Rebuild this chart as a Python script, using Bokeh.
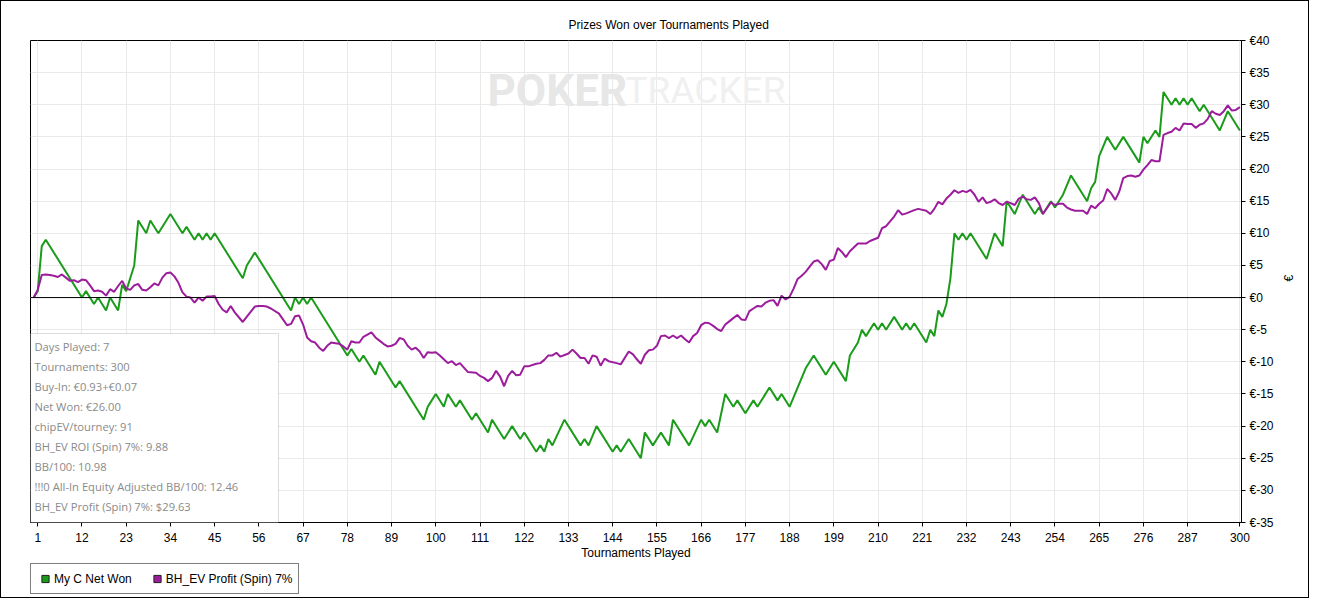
import math
from bokeh.plotting import figure
from bokeh.layouts import column
from bokeh.models import (Range1d, FixedTicker, Span, Label, BoxAnnotation,
                          Legend, LegendItem)
from bokeh.embed import file_html
from bokeh.resources import INLINE

# ---------------- data ----------------
title_text = "Prizes Won over Tournaments Played"
x_label = "Tournaments Played"
y_label = "€"
series_names = ["My C Net Won", "BH_EV Profit (Spin) 7%"]

x_ticks = [1, 12, 23, 34, 45, 56, 67, 78, 89, 100, 111, 122, 133, 144, 155, 166,
           177, 188, 199, 210, 221, 232, 243, 254, 265, 276, 287, 300]
y_ticks = [-35, -30, -25, -20, -15, -10, -5, 0, 5, 10, 15, 20, 25, 30, 35, 40]

# green series: turning points (tournament, net won in €)
green_t = [0, 1, 2, 3, 12, 13, 15, 16, 18, 19, 21, 22, 23, 24, 25, 26, 28, 29, 31, 34,
           37, 38, 40, 41, 42, 43, 44, 45, 52, 53, 55, 64, 65, 66, 67, 68, 69, 78, 79,
           81, 82, 85, 86, 90, 91, 97, 98, 99, 100, 102, 103, 105, 106, 109, 110, 113,
           114, 117, 119, 121, 122, 125, 126, 127, 128, 129, 132, 136, 137, 138, 140,
           144, 145, 146, 148, 151, 152, 154, 156, 158, 159, 163, 166, 167, 168, 170,
           172, 174, 175, 177, 179, 180, 183, 185, 186, 188, 190, 192, 194, 197, 199,
           202, 203, 205, 206, 207, 209, 210, 211, 212, 214, 216, 217, 218, 219, 222,
           223, 224, 225, 226, 227, 228, 229, 230, 231, 232, 233, 237, 239, 241, 242,
           244, 246, 249, 250, 251, 253, 254, 256, 258, 262, 263, 264, 265, 267, 269,
           271, 275, 276, 277, 279, 280, 281, 283, 284, 285, 286, 287, 288, 290, 291,
           295, 297, 300]
green_v = [0, 1, 8, 9, 0, 1, -1, 0, -2, 0, -2, 2, 1, 3, 5, 12, 10, 12, 10, 13,
           10, 11, 9, 10, 9, 10, 9, 10, 3, 5, 7, -2, 0, -1, 0, -1, 0, -9, -8,
           -10, -9, -12, -10, -14, -13, -19, -17, -16, -15, -17, -15, -17, -16, -19, -18, -21,
           -19, -22, -20, -22, -21, -24, -23, -24, -22, -23, -19, -23, -22, -23, -20,
           -24, -23, -24, -22, -25, -21, -23, -21, -23, -19, -23, -19, -20, -19, -21,
           -15, -17, -16, -18, -16, -17, -14, -16, -15, -17, -14, -11, -9, -12, -10,
           -13, -9, -7, -5, -6, -4, -5, -4, -5, -3, -5, -4, -5, -4, -7,
           -5, -6, -2, -3, -1, 3, 10, 9, 10, 9, 10, 6, 10, 8, 15,
           13, 16, 13, 14, 13, 15, 14, 16, 19, 15, 17, 18, 22, 25, 23,
           25, 21, 25, 24, 26, 25, 32, 30, 31, 30, 31, 30, 31, 29, 30,
           26, 29, 26]

# purple series: (tournament, BH_EV profit in €)
purple_t = [0, 1, 2, 3, 4, 5, 6, 7, 8, 9, 10, 11, 12, 13, 14, 15, 16, 17, 18, 19,
            20, 21, 22, 23, 24, 25, 26, 27, 28, 29, 30, 31, 32, 33, 34, 35, 36, 37, 38, 39,
            40, 41, 42, 43, 44, 45, 46, 47, 48, 49, 50, 52, 54, 55, 56, 57, 58, 59, 61, 62,
            63, 64, 65, 66, 67, 68, 69, 70, 71, 72, 73, 74, 75, 76, 77, 78, 79, 80, 81, 82,
            84, 85, 86, 87, 88, 89, 90, 91, 92, 93, 94, 95, 96, 97, 98, 99, 100, 101, 102, 103,
            104, 105, 106, 107, 108, 110, 111, 112, 113, 114, 115, 116, 117, 118, 119, 120,
            121, 122, 123, 125, 126, 127, 128, 129, 130, 131, 133, 134, 135, 136, 137, 138,
            139, 140, 141, 142, 143, 145, 146, 148, 149, 150, 151, 152, 153, 154, 155, 156,
            157, 158, 159, 160, 161, 162, 163, 164, 165, 166, 167, 168, 169, 170, 171, 172,
            173, 174, 175, 176, 177, 178, 179, 180, 181, 182, 183, 184, 185, 186, 187, 188,
            189, 190, 191, 192, 193, 194, 195, 196, 197, 198, 199, 200, 201, 202, 203, 205,
            206, 207, 208, 210, 211, 212, 214, 215, 216, 217, 219, 220, 222, 223, 224, 225,
            226, 227, 228, 229, 230, 231, 232, 233, 234, 235, 236, 237, 238, 239, 240, 241,
            242, 243, 244, 245, 246, 247, 248, 249, 250, 251, 252, 253, 254, 255, 256, 257,
            258, 259, 261, 262, 263, 264, 265, 266, 267, 268, 269, 270, 271, 272, 273, 274,
            275, 276, 277, 278, 279, 280, 281, 282, 283, 284, 285, 286, 287, 288, 289, 290,
            291, 292, 293, 294, 295, 296, 297, 298, 299, 300]
purple_v = [0, 1.2, 3.5, 3.6, 3.5, 3.4, 3.2, 3.6, 3.1, 2.6, 2.7, 2.4, 2.8, 2.7, 1.9, 1.0, 1.1, 0.9, 0.3, 1.3,
            0.9, 1.8, 2.6, 1.4, 1.2, 1.9, 2.1, 1.2, 1.1, 1.6, 2.2, 1.9, 3.1, 3.8, 3.9, 3.3, 2.3, 0.8, 0.15, 0.0,
            -0.8, 0.0, -0.5, 0.15, 0.15, 0.25, -1.0, -1.9, -2.3, -1.3, -2.3, -3.8, -2.2, -1.4, -1.3, -1.3, -1.4, -1.7, -2.5, -3.4,
            -4.3, -4.1, -2.9, -2.8, -4.2, -6.2, -6.8, -7.0, -7.8, -8.3, -7.5, -7.0, -7.1, -7.2, -7.6, -8.1, -6.8, -7.0, -7.0, -6.1,
            -5.4, -6.2, -6.7, -7.2, -7.6, -7.5, -7.2, -6.3, -6.5, -7.5, -8.1, -7.8, -8.4, -9.4, -8.5, -8.6, -8.5, -9.0, -9.6, -10.2,
            -9.9, -10.5, -10.2, -10.9, -11.6, -11.7, -12.2, -12.5, -13.0, -12.5, -11.4, -12.3, -13.8, -12.2, -11.4, -12.1,
            -12.0, -10.7, -10.7, -10.3, -10.2, -9.7, -9.0, -9.0, -8.6, -9.2, -8.7, -8.1, -8.7, -9.4, -9.4, -10.3,
            -9.0, -9.2, -10.6, -9.5, -9.9, -10.2, -10.4, -8.4, -8.8, -9.6, -10.3, -8.9, -8.2, -8.1, -7.5, -6.0,
            -5.9, -6.3, -5.9, -6.3, -5.9, -6.5, -7.0, -6.0, -5.5, -4.3, -3.9, -4.0, -4.4, -4.9, -5.2, -4.2,
            -3.7, -3.2, -2.7, -3.4, -3.5, -2.1, -1.7, -1.3, -1.4, -0.8, -0.5, -0.4, -1.3, 0.3, -0.3, 0.1,
            1.4, 2.9, 3.4, 4.0, 4.8, 5.6, 5.8, 5.2, 4.3, 5.7, 5.9, 7.7, 7.1, 6.3, 7.2, 8.4,
            8.4, 8.4, 8.8, 9.3, 10.8, 11.1, 12.6, 13.6, 12.9, 13.1, 13.6, 13.8, 13.5, 13.0, 13.8, 14.9,
            14.5, 15.4, 16.0, 16.7, 16.3, 16.6, 16.4, 16.75, 16.0, 14.9, 15.6, 14.7, 14.9, 15.3, 14.7, 14.4,
            14.9, 14.7, 14.4, 15.4, 15.7, 15.3, 15.2, 15.6, 14.7, 13.0, 13.9, 14.8, 14.4, 14.6, 14.6, 14.0,
            13.7, 13.5, 13.5, 13.0, 14.3, 13.9, 14.6, 15.1, 16.9, 16.2, 15.2, 16.5, 18.6, 18.9, 19.0, 18.8,
            19.0, 19.9, 20.6, 21.4, 21.2, 21.2, 25.3, 25.6, 25.8, 26.4, 26.0, 27.1, 27.0, 27.0, 26.4, 26.9,
            27.1, 27.8, 29.0, 28.6, 28.4, 29.0, 29.9, 29.1, 29.2, 29.63]

stats_lines = ["Days Played: 7", "Tournaments: 300", "Buy-In: €0.93+€0.07",
               "Net Won: €26.00", "chipEV/tourney: 91", "BH_EV ROI (Spin) 7%: 9.88",
               "BB/100: 10.98", "!!!0 All-In Equity Adjusted BB/100: 12.46",
               "BH_EV Profit (Spin) 7%: $29.63"]

# ---------------- styling / layout ----------------
GREEN = "#1a9c1a"
PURPLE = "#9c1c9c"
FONT = "Liberation Sans"

X0, X1 = -0.8, 300.4
Y0, Y1 = -35, 40
FL, FT, FW, FH = 30, 40, 1211, 482   # frame position in the picture (px)
OX, OY = 1, 1                        # canvas origin in the picture (px)
TOTAL_W, TOTAL_H = 1307, 596
MAIN_BOTTOM = 40                     # space below the frame for the x axis
MAIN_H = (FT - OY) + FH + MAIN_BOTTOM
LEG_H = TOTAL_H - MAIN_H

def dx(sx):
    return X0 + (sx - FL) * (X1 - X0) / FW

def dy(sy):
    return Y1 - (sy - FT) * (Y1 - Y0) / FH

p = figure(frame_width=FW, frame_height=FH,
           min_border_left=FL - OX, min_border_top=FT - OY,
           min_border_right=TOTAL_W - (FL - OX) - FW,
           min_border_bottom=MAIN_BOTTOM,
           x_range=Range1d(X0, X1), y_range=Range1d(Y0, Y1),
           y_axis_location="right", output_backend="svg", toolbar_location=None)
p.background_fill_color = "white"
p.border_fill_color = "white"
p.outline_line_color = "black"
p.outline_line_width = 1

p.title.text = title_text
p.title.align = "left"
p.title.offset = 538
p.title.text_font = FONT
p.title.text_font_size = "12px"
p.title.text_font_style = "normal"
p.title.text_color = "black"
p.title.standoff = 18

xt = FixedTicker(ticks=x_ticks)
yt = FixedTicker(ticks=y_ticks)
p.xaxis.ticker = xt
p.yaxis.ticker = yt
p.xgrid.ticker = xt
p.ygrid.ticker = yt
for g in (p.xgrid, p.ygrid):
    g.grid_line_color = "#e9e9e9"
    g.grid_line_width = 1

p.yaxis.major_label_overrides = {v: "€" + str(v) for v in y_ticks}
for ax in (p.xaxis, p.yaxis):
    ax.axis_line_color = "black"
    ax.major_tick_line_color = "black"
    ax.major_tick_in = 0
    ax.major_tick_out = 4
    ax.minor_tick_line_color = None
    ax.major_label_text_font = FONT
    ax.major_label_text_font_size = "12px"
    ax.major_label_text_color = "black"
    ax.major_label_standoff = 4
    ax.axis_label_text_font = FONT
    ax.axis_label_text_font_size = "12px"
    ax.axis_label_text_font_style = "normal"
    ax.axis_label_text_color = "black"
p.xaxis.major_label_standoff = 6
p.xaxis.axis_label = x_label
p.xaxis.axis_label_standoff = 1
p.yaxis.axis_label = y_label
p.yaxis.axis_label_standoff = 12
yax = p.yaxis[0]
if "axis_label_orientation" in yax.properties():
    yax.axis_label_orientation = math.pi / 2

# watermark
p.add_layout(Label(x=dx(487), y=dy(90), text="POKER", text_font="Roboto",
                   text_font_size="44px", text_font_style="bold", text_color="#e7e7e7",
                   text_baseline="middle", level="underlay"))
p.add_layout(Label(x=dx(625), y=dy(90), text="TRACKER", text_font="Roboto",
                   text_font_size="37px", text_color="#f0f0f0",
                   text_baseline="middle", level="underlay"))

p.add_layout(Span(location=0, dimension="width", line_color="black", line_width=1))

p.line(green_t, green_v, line_color=GREEN, line_width=2)
p.line(purple_t, purple_v, line_color=PURPLE, line_width=2)

# stats box
p.add_layout(BoxAnnotation(left=dx(30), right=dx(278), top=dy(333), bottom=dy(522),
                           fill_color="white", fill_alpha=1.0,
                           line_color="#8a8a8a", line_width=1))
for k, s in enumerate(stats_lines):
    p.add_layout(Label(x=dx(34), y=dy(346 + 20 * k), text=s, text_font="Open Sans",
                       text_font_size="11.2px", text_color="#8a8a8a",
                       text_baseline="middle"))

# legend, drawn in a thin figure below the chart
leg = figure(width=TOTAL_W, height=LEG_H, min_border_left=FL - OX, min_border_right=0,
             min_border_top=1, min_border_bottom=0,
             x_range=Range1d(0, 1), y_range=Range1d(0, 1),
             x_axis_location=None, y_axis_location=None,
             output_backend="svg", toolbar_location=None)
leg.grid.visible = False
leg.outline_line_color = None
leg.background_fill_color = "white"
leg.border_fill_color = "white"
# one off-range point per swatch, only so that the legend draws the marker
r1 = leg.scatter(x=[5], y=[5], marker="square", size=8, fill_color=GREEN, line_color="#202020")
r2 = leg.scatter(x=[5], y=[5], marker="square", size=8, fill_color=PURPLE, line_color="#202020")
legend = Legend(items=[LegendItem(label=series_names[0], renderers=[r1]),
                       LegendItem(label=series_names[1], renderers=[r2])],
                location="top_left", orientation="horizontal",
                border_line_color="black", border_line_width=1,
                background_fill_color="white", background_fill_alpha=1.0,
                padding=5, spacing=16, margin=0,
                glyph_width=18, glyph_height=19, label_height=19, label_standoff=0,
                label_text_font=FONT, label_text_font_size="12px",
                label_text_color="black")
leg.add_layout(legend, "center")

layout = column(p, leg, spacing=0)
layout.styles = {"border": "1px solid black"}

open("out.html", "w").write(file_html(layout, INLINE))
